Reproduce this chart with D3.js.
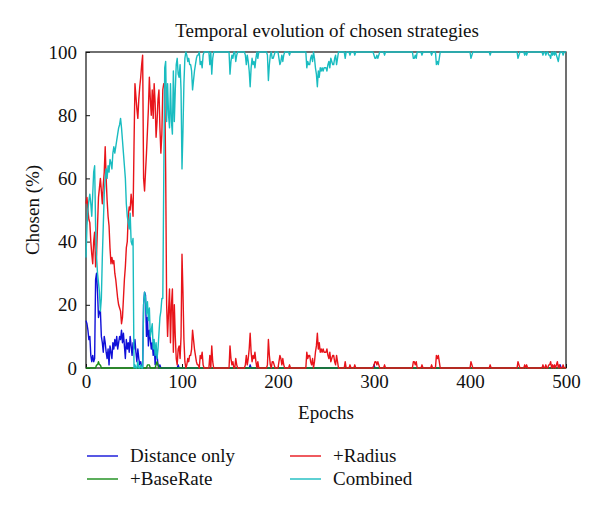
<!DOCTYPE html>
<html><head><meta charset="utf-8">
<script src="https://cdn.jsdelivr.net/npm/d3@7"></script>
<style>
body{margin:0;background:#fff;}
text{font-family:"Liberation Serif","DejaVu Serif",serif;fill:#111;}
</style></head>
<body><svg id="chart" width="600" height="512"></svg>
<script>
const title = "Temporal evolution of chosen strategies";
const xLabel = "Epochs";
const yLabel = "Chosen (%)";
const xTicks = [0,100,200,300,400,500];
const yTicks = [0,20,40,60,80,100];
const seriesNames = ["Distance only","+BaseRate","+Radius","Combined"];
const seriesColors = ["#1010d8","#168c16","#e8141a","#19bcc0"];

// values per epoch 0..500
const distanceOnly = [
15,14,12,9,10,4,2,4,2,3, 28,30,24,16,18,18,10,8,5,10,
8,5,3,6,1,7,5,3,8,6, 9,7,10,6,8,10,9,12,8,11,
7,3,9,6,8,5,10,7,4,8, 6,9,5,2,6,3,1,2,0,0,
20,24,23,10,16,7,12,9,6,8, 4,8,1,5,4,1,0,1,0,0,
0,0,0,0,0,0,0,0,0,0, 0,0,0,0,0,0,1,0,0,0,
0,0,0,0,0,0,0,0,0,0, 0,0,0,0,0,0,0,0,0,0,
0,0,0,0,0,0,0,0,0,0, 0,0,0,0,0,0,0,0,0,0,
0,0,0,0,0,0,0,0,0,0, 0,0,0,0,0,0,0,0,0,0,
0,0,0,0,0,0,0,0,0,0, 0,1,0,0,0,0,0,0,0,0,
0,0,0,0,0,0,0,0,0,0, 0,0,0,0,0,0,0,0,0,0,
0,0,0,0,0,0,0,0,0,0, 0,0,0,0,0,0,0,0,0,0,
0,0,0,0,0,0,0,0,0,0, 0,0,0,0,0,0,0,0,0,0,
0,0,0,0,0,0,0,0,0,0, 0,0,0,0,0,0,0,0,0,0,
0,0,0,0,0,0,0,0,0,0, 0,0,0,0,0,0,0,0,0,0,
0,0,0,0,0,0,0,0,0,0, 0,0,0,0,0,0,0,0,0,0,
1,0,0,0,0,0,0,0,0,0, 0,0,0,0,0,0,0,0,0,0,
0,0,0,0,0,0,0,0,0,0, 0,0,0,0,0,0,0,0,0,0,
0,0,0,0,0,0,0,0,0,0, 0,0,0,0,0,0,0,0,0,0,
0,0,0,0,0,0,0,0,0,0, 0,0,0,0,0,0,0,0,0,0,
0,0,0,0,0,0,0,0,0,0, 0,0,0,0,0,0,0,0,0,0,
0,0,0,0,0,0,0,0,0,0, 0,0,0,0,0,0,0,0,0,0,
0,0,0,0,0,0,0,0,0,0, 0,0,0,0,0,0,0,0,0,0,
0,0,0,0,0,0,0,0,0,0, 0,0,0,0,0,0,0,0,0,0,
0,0,0,0,0,0,0,0,0,0, 0,0,0,0,0,0,0,0,0,0,
0,0,0,0,0,0,0,0,0,0, 0,0,0,0,1,0,0,0,0,0,
0
];
const baseRate = [
0,0,0,0,0,0,0,0,0,0, 0,1,1,2,1,1,0,0,0,0,
0,0,0,0,0,0,0,0,0,0, 0,0,0,0,0,0,0,0,0,0,
0,0,0,0,0,0,0,0,0,0, 0,0,0,0,0,0,0,0,0,0,
0,0,0,0,1,1,1,0,0,0, 0,0,0,1,2,1,0,0,0,0,
0,0,0,0,0,0,0,0,0,0, 0,0,0,0,0,0,0,0,0,0,
0,0,0,0,0,0,0,0,0,0, 0,0,0,0,0,0,0,0,0,0,
0,0,0,0,0,0,0,0,0,0, 0,0,0,0,0,0,0,0,0,0,
0,0,0,0,0,0,0,0,0,0, 0,0,0,0,0,0,0,0,0,0,
0,0,0,0,0,0,0,0,0,0, 0,0,0,0,0,0,0,0,0,0,
0,0,0,0,0,0,0,0,0,0, 0,0,0,0,0,0,0,0,0,0,
0,0,0,0,0,0,0,0,0,0, 0,0,0,0,0,0,0,0,0,0,
0,0,0,0,0,0,0,0,0,0, 0,0,0,0,0,0,0,0,0,0,
0,0,0,0,0,0,0,0,0,0, 0,0,0,0,0,0,0,0,0,0,
0,0,0,0,0,0,0,0,0,0, 0,0,0,0,0,0,0,0,0,0,
0,0,0,0,0,0,0,0,0,0, 0,0,0,0,0,0,0,0,0,0,
0,0,0,0,0,0,0,0,0,0, 0,0,0,0,0,0,0,0,0,0,
0,0,0,0,0,0,0,0,0,0, 0,0,0,0,0,0,0,0,0,0,
0,0,0,0,0,0,0,0,0,0, 0,0,0,0,0,0,0,0,0,0,
0,0,0,0,0,0,0,0,0,0, 0,0,0,0,0,0,0,0,0,0,
0,0,0,0,0,0,0,0,0,0, 0,0,0,0,0,0,0,0,0,0,
0,0,0,0,0,0,0,0,0,0, 0,0,0,0,0,0,0,0,0,0,
0,0,0,0,0,0,0,0,0,0, 0,0,0,0,0,0,0,0,0,0,
0,0,0,0,0,0,0,0,0,0, 0,0,0,0,0,0,0,0,0,0,
0,0,0,0,0,0,0,0,0,0, 0,0,0,0,0,0,0,0,0,0,
0,0,0,0,0,0,0,0,0,0, 0,0,0,0,0,0,0,0,0,0,
0
];
const radius = [
52,54,50,47,46,40,36,33,40,43, 32,36,45,54,57,60,56,52,58,62,
70,60,53,48,45,38,33,35,33,34, 30,28,25,22,20,19,18,14,16,22,
28,32,38,40,48,51,50,55,52,48, 70,90,86,82,79,85,89,92,96,99,
60,56,62,68,75,82,92,85,80,88, 79,90,84,73,78,85,88,76,68,74,
88,90,90,62,20,10,18,25,8,20, 25,5,20,10,3,1,6,7,3,10,
36,24,9,2,0,1,3,2,4,4, 6,12,9,6,4,2,1,1,0,4,
3,5,1,0,0,0,0,0,0,4, 0,7,2,0,0,0,0,0,0,0,
0,0,0,0,0,0,0,0,0,0, 7,3,1,2,0,0,3,1,0,0,
0,0,0,0,0,0,1,4,1,3, 6,11,5,2,4,3,5,2,0,2,
0,0,0,0,0,0,0,0,0,1, 9,4,1,0,2,2,1,0,0,0,
0,2,4,3,1,3,1,0,0,0, 0,0,1,0,0,0,0,0,0,0,
0,0,0,0,0,0,0,0,0,0, 5,3,4,4,2,1,3,0,2,5,
7,11,6,8,5,6,5,6,5,5, 5,6,4,3,5,2,3,4,4,2,
1,4,2,0,0,0,0,0,0,0, 2,0,0,0,0,1,0,0,0,0,
1,0,0,0,0,0,0,0,0,0, 0,0,0,0,0,0,0,0,0,0,
1,2,2,1,2,1,0,0,0,0, 0,1,0,0,0,0,0,0,0,0,
0,0,0,0,0,0,0,0,0,0, 0,0,0,0,0,0,0,0,0,0,
0,2,2,1,2,0,0,0,0,0, 1,0,0,0,0,0,0,0,0,0,
1,0,0,0,0,4,3,4,2,0, 0,0,0,0,0,0,0,0,0,0,
0,0,0,0,0,0,0,0,0,0, 0,0,0,0,0,0,0,0,0,0,
0,2,1,0,0,0,0,0,0,0, 0,0,0,0,0,0,0,0,0,0,
0,1,0,0,0,0,0,0,0,0, 0,0,0,0,0,0,0,0,0,0,
0,0,0,0,0,0,0,0,0,0, 2,1,0,0,0,0,0,1,0,1,
0,0,0,0,0,0,0,0,0,0, 0,0,0,0,0,0,1,0,0,1,
0,0,1,1,2,0,1,0,1,0, 1,2,0,1,0,0,0,1,0,0,
0
];
const combined = [
35,45,50,53,55,52,48,55,62,64, 45,35,30,27,24,18,22,35,45,55,
60,63,60,64,62,66,65,63,68,70, 68,70,72,74,76,77,79,76,72,68,
64,60,52,48,46,44,49,40,39,41, 0,1,0,0,2,0,0,1,0,0,
20,24,22,17,21,15,19,10,12,14, 6,9,4,8,3,6,11,16,18,22,
22,60,95,97,78,90,80,76,90,78, 74,94,78,88,96,98,93,92,96,88,
63,75,90,98,100,99,97,98,96,96, 94,88,91,94,96,98,99,99,100,96,
97,95,99,100,100,100,100,100,100,96, 100,93,98,100,100,100,100,100,100,100,
100,100,100,100,100,100,100,100,100,100, 93,97,99,98,100,100,97,99,100,100,
100,100,100,100,100,100,99,96,99,97, 94,89,95,98,96,97,95,98,100,98,
100,100,100,100,100,100,100,100,100,99, 91,96,99,100,98,98,99,100,100,100,
100,98,96,97,99,97,99,100,100,100, 100,100,99,100,100,100,100,100,100,100,
100,100,100,100,100,100,100,100,100,100, 95,97,96,96,98,99,97,100,98,95,
93,89,94,92,95,94,95,94,95,95, 95,94,96,97,95,98,97,96,96,98,
99,96,98,100,100,100,100,100,100,100, 98,100,100,100,100,99,100,100,100,100,
99,100,100,100,100,100,100,100,100,100, 100,100,100,100,100,100,100,100,100,100,
99,98,98,99,98,99,100,100,100,100, 100,99,100,100,100,100,100,100,100,100,
100,100,100,100,100,100,100,100,100,100, 100,100,100,100,100,100,100,100,100,100,
100,98,98,99,98,100,100,100,100,100, 99,100,100,100,100,100,100,100,100,100,
99,100,100,100,100,96,97,96,98,100, 100,100,100,100,100,100,100,100,100,100,
100,100,100,100,100,100,100,100,100,100, 100,100,100,100,100,100,100,100,100,100,
100,98,99,100,100,100,100,100,100,100, 100,100,100,100,100,100,100,100,100,100,
100,99,100,100,100,100,100,100,100,100, 100,100,100,100,100,100,100,100,100,100,
100,100,100,100,100,100,100,100,100,100, 98,99,100,100,100,100,100,99,100,99,
100,100,100,100,100,100,100,100,100,100, 100,100,100,100,100,100,99,100,100,99,
100,100,99,99,98,100,99,100,99,100, 99,98,97,99,100,100,100,99,100,100,
100
];

const svg = d3.select("#chart");
const m = {left:86, right:566, top:52, bottom:368};
const x = d3.scaleLinear().domain([0,500]).range([m.left, m.right]);
const y = d3.scaleLinear().domain([0,100]).range([m.bottom, m.top]);
const FS = 19;

// title
svg.append("text").attr("x", 327).attr("y", 37)
  .attr("text-anchor","middle").attr("font-size", FS).text(title);

// frame
svg.append("rect").attr("x", m.left).attr("y", m.top)
  .attr("width", m.right-m.left).attr("height", m.bottom-m.top)
  .attr("fill","none").attr("stroke","#111").attr("stroke-width",1.2);

// axes (inward ticks)
const yAxis = d3.axisLeft(y).tickValues(yTicks).tickSizeInner(-4).tickSizeOuter(0).tickPadding(9);
const gy = svg.append("g").attr("transform",`translate(${m.left},0)`).call(yAxis);
gy.select(".domain").remove();
gy.selectAll("line").attr("stroke","#111");
gy.selectAll("text").attr("font-size",FS).attr("font-family","Liberation Serif, serif").attr("fill","#111");

const xAxis = d3.axisBottom(x).tickValues(xTicks).tickSizeInner(-4).tickSizeOuter(0).tickPadding(7);
const gx = svg.append("g").attr("transform",`translate(0,${m.bottom})`).call(xAxis);
gx.select(".domain").remove();
gx.selectAll("line").attr("stroke","#111");
gx.selectAll("text").attr("font-size",FS).attr("font-family","Liberation Serif, serif").attr("fill","#111");

// axis labels
svg.append("text").attr("x",(m.left+m.right)/2).attr("y",419)
  .attr("text-anchor","middle").attr("font-size",FS).text(xLabel);
svg.append("text").attr("transform",`translate(39,${(m.top+m.bottom)/2}) rotate(-90)`)
  .attr("text-anchor","middle").attr("font-size",FS).text(yLabel);

// lines
const allSeries = [distanceOnly, baseRate, radius, combined];
const line = d3.line().x((d,i)=>x(i)).y(d=>y(d));
allSeries.forEach((s,k)=>{
  svg.append("path").datum(s).attr("d", line)
    .attr("fill","none").attr("stroke", seriesColors[k])
    .attr("stroke-width",1.4).attr("stroke-linejoin","round");
});

// legend
const legPos = [[87,462],[87,485],[290,462],[290,485]];
seriesNames.forEach((n,k)=>{
  const [lx,ly] = legPos[k];
  svg.append("line").attr("x1",lx).attr("x2",lx+31).attr("y1",ly-6).attr("y2",ly-6)
    .attr("stroke",seriesColors[k]).attr("stroke-width",1.4);
  svg.append("text").attr("x",lx+43).attr("y",ly).attr("font-size",FS).text(n);
});
</script></body></html>
